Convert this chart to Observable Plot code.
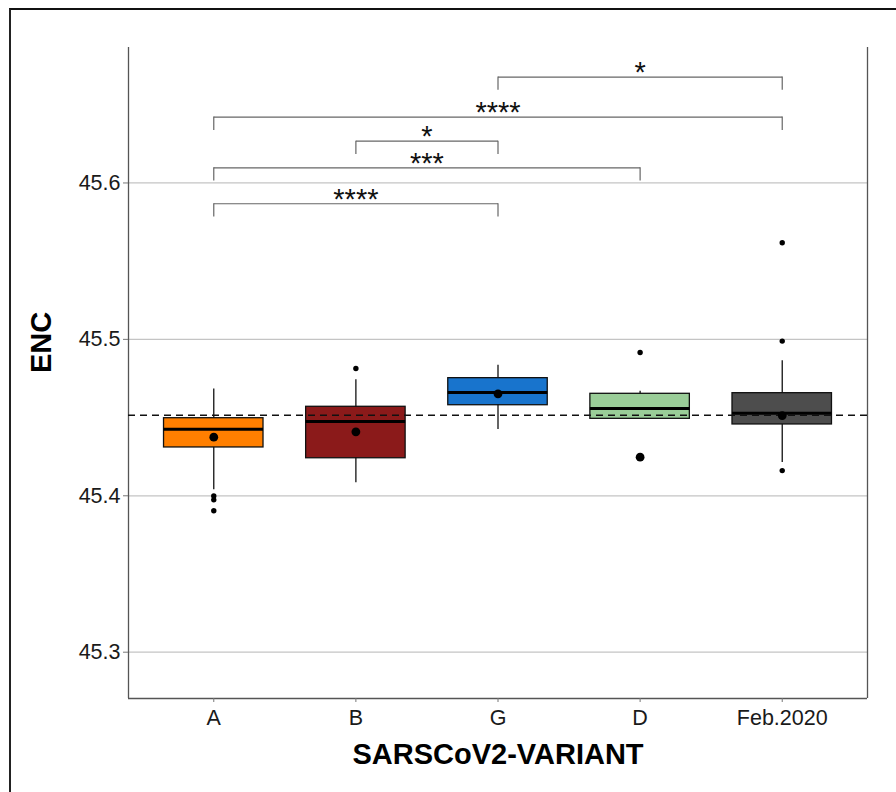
<!DOCTYPE html>
<html>
<head>
<meta charset="utf-8">
<script src="https://cdn.jsdelivr.net/npm/d3@7"></script>
<script src="https://cdn.jsdelivr.net/npm/@observablehq/plot@0.6"></script>
<style>
  html, body { margin: 0; padding: 0; background: #fff; }
  #wrap { position: relative; width: 896px; height: 792px; overflow: hidden; }
  #border { position: absolute; left: 9px; top: 8px; right: -4px; bottom: -4px;
            border-top: 2px solid #111; border-left: 2px solid #222; pointer-events: none; }
</style>
</head>
<body>
<div id="wrap"><div id="chart"></div><div id="border"></div></div>
<script>
// ---- data ----
const categories = ["A", "B", "G", "D", "Feb.2020"];
const boxColors = ["#FF7F00", "#8B1A1A", "#1874CD", "#9ACD98", "#4D4D4D"];
const q1 = [45.4309, 45.4240, 45.4579, 45.4492, 45.4456];
const median = [45.4426, 45.4475, 45.4660, 45.4558, 45.4528];
const q3 = [45.4496, 45.4569, 45.4752, 45.4652, 45.4656];
const whiskerLow = [45.4038, 45.4083, 45.4424, 45.4492, 45.4213];
const whiskerHigh = [45.4682, 45.4742, 45.4835, 45.4669, 45.4863];
const means = [45.4375, 45.4409, 45.4652, 45.4247, 45.4513];
const outlierGroups = ["A", "A", "A", "B", "D", "Feb.2020", "Feb.2020", "Feb.2020"];
const outlierValues = [45.3999, 45.3974, 45.3904, 45.4814, 45.4916, 45.5618, 45.4989, 45.4161];
const overallMean = 45.4515;
const yTicks = [45.3, 45.4, 45.5, 45.6];
const bracketFrom = ["G", "A", "B", "A", "A"];
const bracketTo = ["Feb.2020", "Feb.2020", "G", "D", "G"];
const bracketY = [45.6677, 45.6421, 45.6267, 45.6097, 45.5867];
const bracketLabels = ["*", "****", "*", "***", "****"];

// ---- derived tables ----
const pos = (c) => categories.indexOf(c) + 1;
const half = 0.35;      // half box width in category units
const tip = 0.0085;     // bracket tip length
const xDomain = [0.4, 5.6];
const yDomain = [45.2704, 45.6866];

const boxes = categories.map((c, i) => ({
  c, i: i + 1, color: boxColors[i], q1: q1[i], med: median[i], q3: q3[i],
  lo: whiskerLow[i], hi: whiskerHigh[i], mean: means[i]
}));
const outliers = outlierGroups.map((g, i) => ({i: pos(g), v: outlierValues[i]}));
const brackets = bracketFrom.map((f, k) => ({
  a: pos(f), b: pos(bracketTo[k]), y: bracketY[k], label: bracketLabels[k]
}));
const bracketTips = brackets.flatMap(d => [{x: d.a, y: d.y}, {x: d.b, y: d.y}]);

const chart = Plot.plot({
  width: 896,
  height: 792,
  marginLeft: 128,
  marginRight: 29,
  marginTop: 47,
  marginBottom: 94,
  style: {fontFamily: "'Liberation Sans', Arial, sans-serif", color: "#222", background: "#fff"},
  x: {domain: xDomain, label: null},
  y: {domain: yDomain, label: null},
  marks: [
    Plot.ruleY(yTicks, {stroke: "#c4c4c4", strokeWidth: 1.3}),
    Plot.ruleX(xDomain, {stroke: "#555", strokeWidth: 1.3}),
    Plot.ruleY([yDomain[0]], {stroke: "#555", strokeWidth: 1.3}),
    Plot.ruleX(boxes, {x: "i", y1: "lo", y2: "hi", stroke: "#111", strokeWidth: 1.3}),
    Plot.rect(boxes, {x1: d => d.i - half, x2: d => d.i + half, y1: "q1", y2: "q3",
      fill: "color", stroke: "#111", strokeWidth: 1.3}),
    Plot.ruleY(boxes, {y: "med", x1: d => d.i - half, x2: d => d.i + half, stroke: "#000", strokeWidth: 3}),
    Plot.ruleY([overallMean], {stroke: "#111", strokeWidth: 1.3, strokeDasharray: "7,5"}),
    Plot.dot(boxes, {x: "i", y: "mean", r: 4.4, fill: "#000", stroke: null}),
    Plot.dot(outliers, {x: "i", y: "v", r: 2.7, fill: "#000", stroke: null}),
    Plot.link(brackets, {x1: "a", x2: "b", y1: "y", y2: "y", stroke: "#666", strokeWidth: 1.2}),
    Plot.ruleX(bracketTips, {x: "x", y1: "y", y2: d => d.y - tip, stroke: "#666", strokeWidth: 1.2}),
    Plot.text(brackets, {x: d => (d.a + d.b) / 2, y: "y", text: "label", fontSize: 29,
      lineAnchor: "bottom", dy: 5, fill: "#111"}),
    Plot.axisY({ticks: yTicks, tickFormat: d3.format(".1f"), tickSize: 5, tickPadding: 3,
      fontSize: 21.5, stroke: "#777", fill: "#1a1a1a", label: null}),
    Plot.axisX({ticks: categories.map((c, i) => i + 1), tickFormat: (v) => categories[v - 1],
      tickSize: 4, tickPadding: 7, fontSize: 21.5, stroke: "#777", fill: "#1a1a1a", label: null}),
    Plot.text(["ENC"], {text: d => d, frameAnchor: "left", dx: -87, rotate: -90,
      fontSize: 29, fontWeight: "bold", fill: "#000"}),
    Plot.text(["SARSCoV2-VARIANT"], {text: d => d, frameAnchor: "bottom", dy: 65,
      fontSize: 29, fontWeight: "bold", fill: "#000"})
  ]
});
document.getElementById("chart").appendChild(chart);
</script>
</body>
</html>
